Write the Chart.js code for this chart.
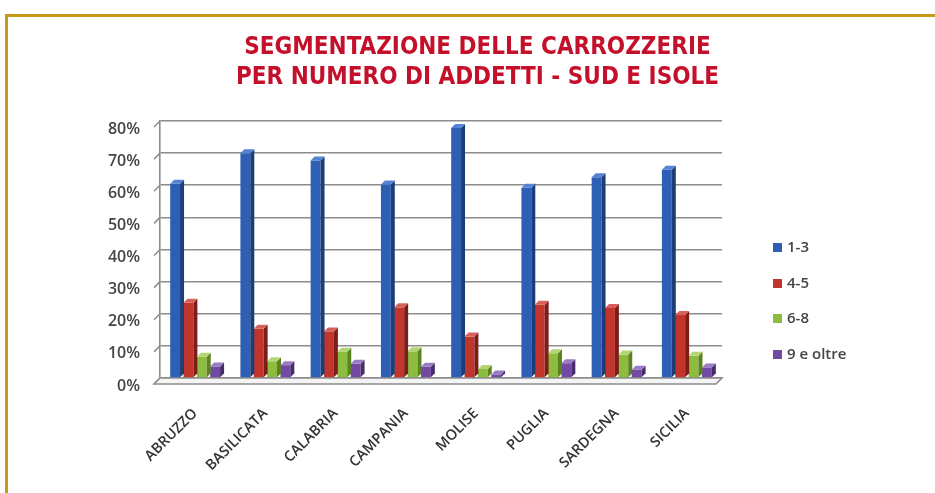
<!DOCTYPE html>
<html>
<head>
<meta charset="utf-8">
<title>Segmentazione delle carrozzerie - Sud e Isole</title>
<script src="https://cdn.jsdelivr.net/npm/chart.js"></script>
<style>
    html, body { margin: 0; padding: 0; background: #fff; }
    #frame { position: relative; width: 935px; height: 493px; overflow: hidden; }
    #box { position: absolute; left: 5px; top: 14px; right: -10px; bottom: -10px;
           border-top: 3px solid #c99a17; border-left: 3px solid #c99a17; }
    #title { position: absolute; left: 0; width: 955px; top: 31px; text-align: center;
             color: #c5102b; font-family: "Liberation Sans Narrow", "DejaVu Sans Condensed", sans-serif;
             font-weight: bold; font-size: 24px; line-height: 30px; z-index: 2; }
    #chart { position: absolute; left: 0; top: 0; z-index: 1; }
    #legend { position: absolute; left: 773px; top: 237px; z-index: 2;
              font-family: "Open Sans", sans-serif; font-size: 15px; font-weight: 600; color: #454545; }
    #legend div { height: 35.5px; line-height: 19px; white-space: nowrap; }
    #legend span { display: inline-block; width: 9px; height: 9px; margin-right: 5px; vertical-align: 0px; }
</style>
</head>
<body>
<div id="frame">
    <div id="box"></div>
    <div id="title">SEGMENTAZIONE DELLE CARROZZERIE<br>PER NUMERO DI ADDETTI - SUD E ISOLE</div>
    <canvas id="chart" width="935" height="493"></canvas>
    <div id="legend"></div>
</div>
<script>
    // regioni
    const regioni = ['ABRUZZO', 'BASILICATA', 'CALABRIA', 'CAMPANIA', 'MOLISE', 'PUGLIA', 'SARDEGNA', 'SICILIA'];

    // quota di carrozzerie per classe di addetti (%)
    const addetti1_3 = [60.5, 70, 67.7, 60.2, 77.8, 59.2, 62.5, 64.8];
    const addetti4_5 = [23.4, 15.3, 14.5, 22, 12.9, 22.8, 21.8, 19.6];
    const addetti6_8 = [6.6, 5.2, 8.2, 8.3, 2.8, 7.7, 7.3, 6.9];
    const addetti9   = [3.6, 4, 4.4, 3.5, 1.1, 4.6, 2.6, 3.3];

    const yTicks = [0, 10, 20, 30, 40, 50, 60, 70, 80];

    const serie = [
        { label: '1-3',       data: addetti1_3, color: '#2d5fb4', side: '#1b3d78', top: '#5383d2' },
        { label: '4-5',       data: addetti4_5, color: '#c1352c', side: '#7e1d17', top: '#d6605a' },
        { label: '6-8',       data: addetti6_8, color: '#8dbd3f', side: '#5b8223', top: '#b3d675' },
        { label: '9 e oltre', data: addetti9,   color: '#7249a3', side: '#472b6b', top: '#9a7cc2' }
    ];

    // legenda html
    const legend = document.getElementById('legend');
    serie.forEach(s => {
        const row = document.createElement('div');
        row.innerHTML = '<span style="background:' + s.color + '"></span>' + s.label;
        legend.appendChild(row);
    });

    const DEPTH = 4;

    // facce laterali e superiori delle barre + pavimento, per l'effetto 3D
    const effetto3d = {
        id: 'effetto3d',
        beforeDatasetsDraw(chart) {
            const { ctx, chartArea: a, scales: { y } } = chart;
            ctx.save();
            ctx.strokeStyle = '#8c8c8c';
            ctx.lineWidth = 1.5;
            // piccoli raccordi a sinistra delle linee di griglia
            yTicks.forEach(t => {
                const py = y.getPixelForValue(t);
                ctx.beginPath();
                ctx.moveTo(a.left, py);
                ctx.lineTo(a.left - 6, py + 6);
                ctx.stroke();
            });
            // pavimento
            ctx.fillStyle = '#f4f4f4';
            ctx.beginPath();
            ctx.moveTo(a.left, a.bottom);
            ctx.lineTo(a.right, a.bottom);
            ctx.lineTo(a.right - 6, a.bottom + 6);
            ctx.lineTo(a.left - 6, a.bottom + 6);
            ctx.closePath();
            ctx.fill();
            ctx.stroke();
            ctx.restore();
        },
        afterDatasetsDraw(chart) {
            const ctx = chart.ctx;
            ctx.save();
            chart.data.datasets.forEach((ds, i) => {
                const meta = chart.getDatasetMeta(i);
                meta.data.forEach(bar => {
                    const { x, y, width, base } = bar.getProps(['x', 'y', 'width', 'base'], true);
                    const l = x - width / 2, r = x + width / 2;
                    ctx.fillStyle = serie[i].side;
                    ctx.beginPath();
                    ctx.moveTo(r, y);
                    ctx.lineTo(r + DEPTH, y - DEPTH);
                    ctx.lineTo(r + DEPTH, base - DEPTH);
                    ctx.lineTo(r, base);
                    ctx.closePath();
                    ctx.fill();
                    ctx.fillStyle = serie[i].top;
                    ctx.beginPath();
                    ctx.moveTo(l, y);
                    ctx.lineTo(l + DEPTH, y - DEPTH);
                    ctx.lineTo(r + DEPTH, y - DEPTH);
                    ctx.lineTo(r, y);
                    ctx.closePath();
                    ctx.fill();
                });
            });
            ctx.restore();
        }
    };

    new Chart(document.getElementById('chart'), {
        type: 'bar',
        data: {
            labels: regioni,
            datasets: serie.map(s => ({
                label: s.label,
                data: s.data,
                backgroundColor: s.color,
                borderWidth: 0,
                categoryPercentage: 0.76,
                barPercentage: 0.74
            }))
        },
        options: {
            responsive: false,
            animation: false,
            layout: { padding: { top: 121, right: 213, bottom: 0, left: 100 } },
            plugins: {
                legend: { display: false },
                tooltip: { enabled: false }
            },
            scales: {
                x: {
                    grid: { display: false, drawTicks: false },
                    border: { display: false },
                    afterFit: scale => { scale.height = 115; },
                    ticks: {
                        minRotation: 45,
                        maxRotation: 45,
                        padding: 27,
                        labelOffset: 0,
                        color: '#333333',
                        font: { family: 'Open Sans', size: 14.5, weight: '600' }
                    }
                },
                y: {
                    min: 0,
                    max: 80,
                    afterFit: scale => { scale.width = 60; },
                    afterBuildTicks: scale => { scale.ticks = yTicks.map(v => ({ value: v })); },
                    grid: { color: '#8c8c8c', lineWidth: 1.6, drawTicks: false },
                    border: { display: true, color: '#8c8c8c', width: 1.6 },
                    ticks: {
                        padding: 20,
                        labelOffset: 8,
                        color: '#454545',
                        font: { family: 'Open Sans', size: 16, weight: '600' },
                        callback: v => v + '%'
                    }
                }
            }
        },
        plugins: [effetto3d]
    });
</script>
</body>
</html>
